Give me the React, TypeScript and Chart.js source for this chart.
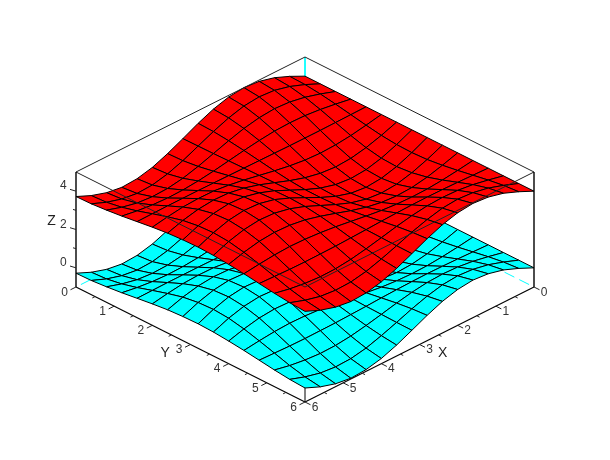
import React, { useEffect, useRef } from "react";
import { Chart, registerables } from "chart.js";

Chart.register(...registerables);

const xValues = [0, 0.4, 0.8, 1.2, 1.6, 2, 2.4, 2.8, 3.2, 3.6, 4, 4.4, 4.8, 5.2, 5.6, 6];
const yValues = [0, 0.4, 0.8, 1.2, 1.6, 2, 2.4, 2.8, 3.2, 3.6, 4, 4.4, 4.8, 5.2, 5.6, 6];

const lowerSurface = [
  [0,0,0,0,0,0,0,0,0,0,0,0,0,0,0,0],
  [.39,.36,.27,.14,-.01,-.16,-.29,-.37,-.39,-.35,-.25,-.12,.03,.18,.30,.37],
  [.72,.66,.50,.26,-.02,-.30,-.53,-.68,-.72,-.64,-.47,-.22,.06,.34,.56,.69],
  [.93,.86,.65,.34,-.03,-.39,-.69,-.88,-.93,-.84,-.61,-.29,.08,.44,.72,.89],
  [1.00,.92,.70,.36,-.03,-.42,-.74,-.94,-1.00,-.90,-.65,-.31,.09,.47,.78,.96],
  [.91,.84,.63,.33,-.03,-.38,-.67,-.86,-.91,-.82,-.59,-.28,.08,.43,.71,.87],
  [.68,.62,.47,.24,-.02,-.28,-.50,-.64,-.67,-.61,-.44,-.21,.06,.32,.52,.65],
  [.34,.31,.23,.12,-.01,-.14,-.25,-.32,-.33,-.30,-.22,-.10,.03,.16,.26,.32],
  [-.06,-.05,-.04,-.02,0,.02,.04,.05,.06,.05,.04,.02,-.01,-.03,-.05,-.06],
  [-.44,-.41,-.31,-.16,.01,.18,.33,.42,.44,.40,.29,.14,-.04,-.21,-.34,-.43],
  [-.76,-.70,-.53,-.27,.02,.31,.56,.71,.76,.68,.50,.23,-.07,-.36,-.59,-.73],
  [-.95,-.88,-.66,-.34,.03,.40,.70,.90,.95,.85,.62,.29,-.08,-.45,-.74,-.91],
  [-1.00,-.92,-.69,-.36,.03,.41,.73,.94,.99,.89,.65,.31,-.09,-.47,-.77,-.96],
  [-.88,-.81,-.62,-.32,.03,.37,.65,.83,.88,.79,.58,.27,-.08,-.41,-.69,-.85],
  [-.63,-.58,-.44,-.23,.02,.26,.47,.59,.63,.57,.41,.19,-.05,-.30,-.49,-.61],
  [-.28,-.26,-.19,-.10,.01,.12,.21,.26,.28,.25,.18,.09,-.02,-.13,-.22,-.27],
];

const upperSurface = [
  [4,4,4,4,4,4,4,4,4,4,4,4,4,4,4,4],
  [4.39,4.36,4.27,4.14,3.99,3.84,3.71,3.63,3.61,3.65,3.75,3.88,4.03,4.18,4.30,4.37],
  [4.72,4.66,4.50,4.26,3.98,3.70,3.47,3.32,3.28,3.36,3.53,3.78,4.06,4.34,4.56,4.69],
  [4.93,4.86,4.65,4.34,3.97,3.61,3.31,3.12,3.07,3.16,3.39,3.71,4.08,4.44,4.72,4.89],
  [5.00,4.92,4.70,4.36,3.97,3.58,3.26,3.06,3.00,3.10,3.35,3.69,4.09,4.47,4.78,4.96],
  [4.91,4.84,4.63,4.33,3.97,3.62,3.33,3.14,3.09,3.18,3.41,3.72,4.08,4.43,4.71,4.87],
  [4.68,4.62,4.47,4.24,3.98,3.72,3.50,3.36,3.33,3.39,3.56,3.79,4.06,4.32,4.52,4.65],
  [4.34,4.31,4.23,4.12,3.99,3.86,3.75,3.68,3.67,3.70,3.78,3.90,4.03,4.16,4.26,4.32],
  [3.94,3.95,3.96,3.98,4.00,4.02,4.04,4.05,4.06,4.05,4.04,4.02,3.99,3.97,3.95,3.94],
  [3.56,3.59,3.69,3.84,4.01,4.18,4.33,4.42,4.44,4.40,4.29,4.14,3.96,3.79,3.66,3.57],
  [3.24,3.30,3.47,3.73,4.02,4.31,4.56,4.71,4.76,4.68,4.50,4.23,3.93,3.64,3.41,3.27],
  [3.05,3.12,3.34,3.66,4.03,4.40,4.70,4.90,4.95,4.85,4.62,4.29,3.92,3.55,3.26,3.09],
  [3.00,3.08,3.31,3.64,4.03,4.41,4.73,4.94,4.99,4.89,4.65,4.31,3.91,3.53,3.23,3.04],
  [3.12,3.19,3.38,3.68,4.03,4.37,4.65,4.83,4.88,4.79,4.58,4.27,3.92,3.59,3.31,3.15],
  [3.37,3.42,3.56,3.77,4.02,4.26,4.47,4.59,4.63,4.57,4.41,4.19,3.95,3.70,3.51,3.39],
  [3.72,3.74,3.81,3.90,4.01,4.12,4.21,4.26,4.28,4.25,4.18,4.09,3.98,3.87,3.78,3.73],
];

const axisTicksXY = [0, 1, 2, 3, 4, 5, 6];
const minorTicksXY = [0.5, 1.5, 2.5, 3.5, 4.5, 5.5];
const zTicks = [0, 2, 4];
const zMinorTicks = [1, 3];
const xyMin = 0;
const xyMax = 6;
const zMin = -1;
const zMax = 5;

const WIDTH = 610;
const HEIGHT = 460;
const LOWER_COLOR = "#00ffff";
const UPPER_COLOR = "#ff0000";
const LABEL_FONT = '12px "Liberation Sans", Arial, sans-serif';
const TITLE_FONT = '14px "Liberation Sans", Arial, sans-serif';

// Isometric view of the box, into the plane the chart's two linear scales span.
const project = (x: number, y: number, z: number) => ({
  x: 305 + (229 * (y - x)) / 6,
  y: 172 + (115 * (x + y)) / 6 - (z - zMin) * (115 / (zMax - zMin)),
});

type P = { x: number; y: number };

const line = (data: P[], color = "#000", width = 1, dash: number[] = [], dashOffset = 0) => ({
  data,
  showLine: true,
  fill: false,
  borderColor: color,
  borderWidth: width,
  borderDash: dash,
  borderDashOffset: dashOffset,
  pointRadius: 0,
  pointHoverRadius: 0,
  tension: 0,
  clip: false,
});

const facets = (grid: number[][], color: string) => {
  const items: { depth: number; data: P[] }[] = [];
  for (let i = 0; i < xValues.length - 1; i++) {
    for (let j = 0; j < yValues.length - 1; j++) {
      const corners = [
        project(xValues[i], yValues[j], grid[i][j]),
        project(xValues[i + 1], yValues[j], grid[i + 1][j]),
        project(xValues[i + 1], yValues[j + 1], grid[i + 1][j + 1]),
        project(xValues[i], yValues[j + 1], grid[i][j + 1]),
      ];
      items.push({ depth: i + j, data: [...corners, corners[0]] });
    }
  }
  items.sort((p, q) => p.depth - q.depth);
  return items.map((f) => ({
    ...line(f.data, "#000", 1),
    fill: "shape",
    backgroundColor: color,
  }));
};

const offset = (p: P, dx: number, dy: number) => ({ x: p.x + dx, y: p.y + dy });

const buildDatasets = () => {
  const paint: any[] = [];
  // Hidden back edges of the box
  const dash = [11, 5.5];
  paint.push(line([project(xyMax, xyMin, zMin), project(xyMin, xyMin, zMin)], LOWER_COLOR, 1, dash, 11));
  paint.push(line([project(xyMin, xyMax, zMin), project(xyMin, xyMin, zMin)], LOWER_COLOR, 1, dash, 11));
  paint.push(line([project(xyMin, xyMin, zMax), project(xyMin, xyMin, zMin)], LOWER_COLOR, 1));
  // Near vertical edge, hidden by the surfaces except under the lower one
  paint.push(line([project(xyMax, xyMax, zMin), project(xyMax, xyMax, zMax)], "#000", 1));

  paint.push(...facets(lowerSurface, LOWER_COLOR));
  paint.push(...facets(upperSurface, UPPER_COLOR));

  // Box top
  paint.push(
    line(
      [
        project(xyMax, xyMin, zMax),
        project(xyMin, xyMin, zMax),
        project(xyMin, xyMax, zMax),
        project(xyMax, xyMax, zMax),
        project(xyMax, xyMin, zMax),
      ],
      "#222",
      1
    )
  );
  // Axes
  paint.push(line([project(xyMax, xyMin, zMin), project(xyMax, xyMax, zMin)], "#000", 1.2));
  paint.push(line([project(xyMin, xyMax, zMin), project(xyMax, xyMax, zMin)], "#000", 1.2));
  paint.push(line([project(xyMax, xyMin, zMin), project(xyMax, xyMin, zMax)], "#000", 1.4));
  paint.push(line([project(xyMin, xyMax, zMin), project(xyMin, xyMax, zMax)], "#000", 1.4));

  axisTicksXY.forEach((v) => {
    const a = project(xyMax, v, zMin);
    paint.push(line([a, offset(a, -5.5, 2.75)], "#222", 1));
    const b = project(v, xyMax, zMin);
    paint.push(line([b, offset(b, 5.5, 2.75)], "#222", 1));
  });
  minorTicksXY.forEach((v) => {
    const a = project(xyMax, v, zMin);
    paint.push(line([a, offset(a, -2.8, 1.4)], "#222", 1));
    const b = project(v, xyMax, zMin);
    paint.push(line([b, offset(b, 2.8, 1.4)], "#222", 1));
  });
  zTicks.forEach((v) => {
    const a = project(xyMax, xyMin, v);
    paint.push(line([a, offset(a, -6, -1.8)], "#222", 1));
  });
  zMinorTicks.forEach((v) => {
    const a = project(xyMax, xyMin, v);
    paint.push(line([a, offset(a, -3, -0.9)], "#222", 1));
  });
  return paint;
};

const textPlugin = {
  id: "axisText",
  afterDraw(chart: any) {
    const { ctx, scales } = chart;
    const put = (p: P, dx: number, dy: number, text: string, font: string, color: string) => {
      ctx.fillStyle = color;
      ctx.font = font;
      ctx.textAlign = "center";
      ctx.textBaseline = "middle";
      ctx.fillText(text, scales.x.getPixelForValue(p.x) + dx, scales.y.getPixelForValue(p.y) + dy);
    };
    ctx.save();
    axisTicksXY.forEach((v) => {
      put(project(xyMax, v, zMin), -11.5, 5.5, String(v), LABEL_FONT, "#333");
      put(project(v, xyMax, zMin), 10, 5.5, String(v), LABEL_FONT, "#333");
    });
    zTicks.forEach((v) => {
      put(project(xyMax, xyMin, v), -12.7, -5, String(v), LABEL_FONT, "#333");
    });
    put(project(xyMax, 3.15, zMin), -31, 6, "Y", TITLE_FONT, "#222");
    put(project(3.15, xyMax, zMin), 29, 6, "X", TITLE_FONT, "#222");
    put(project(xyMax, xyMin, 2), -24.5, -8.8, "Z", TITLE_FONT, "#222");
    ctx.restore();
  },
};

export default function App() {
  const ref = useRef<HTMLCanvasElement | null>(null);
  useEffect(() => {
    if (!ref.current) return;
    const chart = new Chart(ref.current, {
      type: "scatter",
      data: { datasets: buildDatasets().reverse() },
      options: {
        animation: false,
        responsive: false,
        devicePixelRatio: 1,
        layout: { padding: 0 },
        events: [],
        plugins: { legend: { display: false }, tooltip: { enabled: false }, title: { display: false } },
        scales: {
          x: { type: "linear", display: false, min: 0, max: WIDTH },
          y: { type: "linear", display: false, min: 0, max: HEIGHT, reverse: true },
        },
      },
      plugins: [textPlugin],
    } as any);
    return () => chart.destroy();
  }, []);
  return (
    <canvas
      ref={ref}
      width={WIDTH}
      height={HEIGHT}
      style={{ position: "absolute", left: 0, top: 0, width: WIDTH, height: HEIGHT, background: "#fff" }}
    />
  );
}
